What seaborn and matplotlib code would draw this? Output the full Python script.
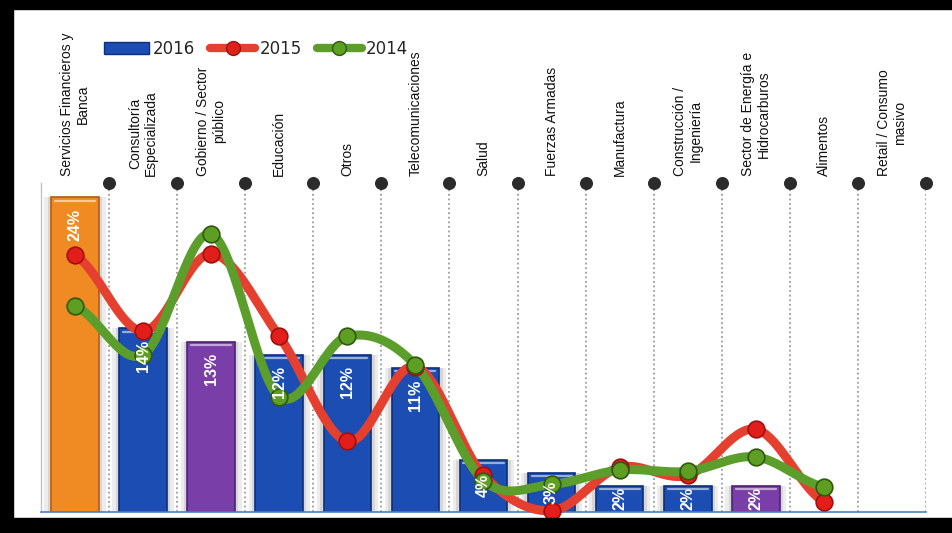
import numpy as np
import pandas as pd
import matplotlib
matplotlib.use("Agg")
import matplotlib.pyplot as plt
import matplotlib.transforms as mtransforms
import seaborn as sns
from matplotlib import font_manager
from matplotlib.lines import Line2D
from matplotlib.patches import Patch, Rectangle

# ---- data -------------------------------------------------------------
categories = [
    "Servicios Financieros y\nBanca",
    "Consultoría\nEspecializada",
    "Gobierno / Sector\npúblico",
    "Educación",
    "Otros",
    "Telecomunicaciones",
    "Salud",
    "Fuerzas Armadas",
    "Manufactura",
    "Construcción /\nIngeniería",
    "Sector de Energía e\nHidrocarburos",
    "Alimentos",
    "Retail / Consumo\nmasivo",
]
share_2016 = [24, 14, 13, 12, 12, 11, 4, 3, 2, 2, 2, np.nan, np.nan]
share_2015 = [19.6, 13.8, 19.7, 13.4, 5.4, 11.1, 2.8, 0.1, 3.4, 2.8, 6.3, 0.8, np.nan]
share_2014 = [15.7, 12.0, 21.2, 8.8, 13.4, 11.2, 2.4, 2.1, 3.2, 3.1, 4.2, 1.9, np.nan]
series_labels = ["2016", "2015", "2014"]

ORANGE, BLUE, PURPLE = "#F08A22", "#1B4DB3", "#7A3EA8"
bar_colors = [ORANGE, BLUE, PURPLE, BLUE, BLUE, BLUE, BLUE, BLUE, BLUE, BLUE,
              PURPLE, BLUE, BLUE]
edge_colors = {ORANGE: "#B85A10", BLUE: "#0C2F7E", PURPLE: "#4E2173"}
RED_LINE, RED_DOT, RED_EDGE = "#E5402F", "#E11E1A", "#A01010"
GREEN_LINE, GREEN_DOT, GREEN_EDGE = "#5C9E2B", "#5E9E22", "#2E5A10"

# ---- fonts ------------------------------------------------------------
sns.set_theme(style="white")
installed = {f.name for f in font_manager.fontManager.ttflist}
if "Liberation Sans Narrow" in installed:
    narrow = "Liberation Sans Narrow"
    cat_size, val_size = 12, 14
else:
    narrow = "Liberation Sans"
    cat_size, val_size = 10, 11.5
plt.rcParams["font.family"] = ["DejaVu Sans"]


def smooth_curve(xs, ys, per_seg=40):
    """Catmull-Rom style cubic Hermite through the given points."""
    xs = np.asarray(xs, float)
    ys = np.asarray(ys, float)
    n = len(ys)
    tang = np.empty(n)
    for i in range(n):
        lo, hi = max(i - 1, 0), min(i + 1, n - 1)
        tang[i] = (ys[hi] - ys[lo]) / 2.0
    out_x, out_y = [], []
    t = np.linspace(0, 1, per_seg)
    h00 = 2 * t**3 - 3 * t**2 + 1
    h10 = t**3 - 2 * t**2 + t
    h01 = -2 * t**3 + 3 * t**2
    h11 = t**3 - t**2
    for i in range(n - 1):
        out_x.append(xs[i] + t * (xs[i + 1] - xs[i]))
        out_y.append(h00 * ys[i] + h10 * tang[i] + h01 * ys[i + 1] + h11 * tang[i + 1])
    return np.concatenate(out_x), np.concatenate(out_y)


# ---- figure -----------------------------------------------------------
W, H = 953, 533
fig = plt.figure(figsize=(W / 100, H / 100), dpi=100)
fig.patch.set_facecolor("white")
ax = fig.add_axes([41 / W, 21 / H, 885 / W, 329 / H])
ax.set_facecolor("white")

YTOP = 25.1
df = pd.DataFrame({"sector": categories, "share": share_2016})
palette = dict(zip(categories, bar_colors))

# soft grey halo behind each bar
sns.barplot(data=df, x="sector", y="share", order=categories, color="#9a9a9a",
            width=0.9, alpha=0.18, saturation=1, ax=ax, errorbar=None)
sns.barplot(data=df, x="sector", y="share", order=categories, color="#8a8a8a",
            width=0.8, alpha=0.22, saturation=1, ax=ax, errorbar=None)
n_halo = len(ax.patches)
sns.barplot(data=df, x="sector", y="share", order=categories, hue="sector",
            hue_order=categories, palette=palette, legend=False, width=0.7,
            saturation=1, ax=ax, errorbar=None)
for p in ax.patches[:n_halo]:
    p.set_linewidth(0)
for p in ax.patches[n_halo:]:
    fc = matplotlib.colors.to_hex(p.get_facecolor())
    p.set_edgecolor(edge_colors.get(fc.upper(), "#333333"))
    p.set_linewidth(1.2)
    h = p.get_height()
    if np.isfinite(h) and h > 0:
        # bevel highlight along the top of the bar
        x0, w = p.get_x(), p.get_width()
        ax.plot([x0 + 0.08 * w, x0 + 0.92 * w], [h - 0.28, h - 0.28],
                color="white", alpha=0.55, lw=1.6, solid_capstyle="round", zorder=2.5)

# dotted separators with dots on top
seps = np.arange(len(categories)) + 0.5
ax.vlines(seps, 0, YTOP, colors="#8c8c8c", linestyles=(0, (1.2, 1.8)), lw=1.1, zorder=1)
ax.scatter(seps, np.full(len(seps), YTOP), s=70, color="#2b2b2b", zorder=6, clip_on=False)

# smoothed trend lines for previous years
pos = np.arange(len(categories))
for vals, lc, fc, ec in [(share_2015, RED_LINE, RED_DOT, RED_EDGE),
                         (share_2014, GREEN_LINE, GREEN_DOT, GREEN_EDGE)]:
    vals = np.asarray(vals, float)
    ok = ~np.isnan(vals)
    sx, sy = smooth_curve(pos[ok], vals[ok])
    ax.plot(sx, sy, color=lc, lw=6.5, solid_capstyle="round", zorder=3, clip_on=False)
    ax.plot(pos[ok], vals[ok], "o", ms=12, mfc=fc, mec=ec, mew=1.2, zorder=4, clip_on=False)

# value labels inside the 2016 bars
for i, v in enumerate(share_2016):
    if np.isnan(v):
        continue
    y = max(v - 2.1, v / 2)
    ax.text(i, y, f"{v:g}%", rotation=90, ha="center", va="center", color="white",
            fontsize=val_size, fontweight="bold", family=[narrow, "DejaVu Sans"], zorder=5)

# category names above the plot
trans = mtransforms.blended_transform_factory(ax.transData, fig.transFigure)
for i, name in enumerate(categories):
    ax.text(i, 1 - 176 / H, name, transform=trans, rotation=90, ha="center", va="bottom",
            multialignment="center", fontsize=cat_size, color="#111111",
            family=[narrow, "DejaVu Sans"], linespacing=1.15)

ax.set_xlim(-0.5, len(categories) - 0.5)
ax.set_ylim(0, YTOP)
ax.set_xlabel("")
ax.set_ylabel("")
ax.set_xticks([])
ax.set_yticks([])
for s in ["top", "right"]:
    ax.spines[s].set_visible(False)
ax.spines["left"].set_color("#c4c4c4")
ax.spines["left"].set_linewidth(1)
ax.spines["bottom"].set_color("#4F81BD")
ax.spines["bottom"].set_linewidth(1.2)

# legend
handles = [
    Patch(facecolor=BLUE, edgecolor=edge_colors[BLUE]),
    Line2D([0], [0], color=RED_LINE, lw=6, marker="o", ms=10, mfc=RED_DOT, mec=RED_EDGE),
    Line2D([0], [0], color=GREEN_LINE, lw=6, marker="o", ms=10, mfc=GREEN_DOT, mec=GREEN_EDGE),
]
fig.legend(handles, series_labels, loc="center left", bbox_to_anchor=(104 / W, 1 - 49 / H),
           ncol=3, frameon=False, fontsize=12, handlelength=2.7, handletextpad=0.25,
           columnspacing=0.9, borderpad=0, borderaxespad=0)

# black frame
fig.add_artist(Rectangle((0, 1 - 9 / H), 1, 9 / H, transform=fig.transFigure, color="black", zorder=10))
fig.add_artist(Rectangle((0, 0), 13 / W, 1, transform=fig.transFigure, color="black", zorder=10))
fig.add_artist(Rectangle((0, 0), 1, 15 / H, transform=fig.transFigure, color="black", zorder=10))

fig.savefig("out.png", dpi=100, facecolor="white")
